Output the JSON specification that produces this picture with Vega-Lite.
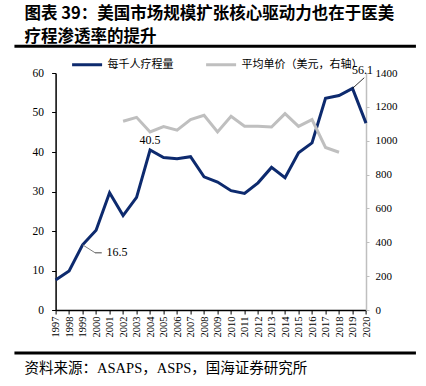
{
  "$schema": "https://vega.github.io/schema/vega-lite/v6.json",
  "width": 310.4,
  "height": 237,
  "autosize": {"type": "none"},
  "padding": {"left": 55.6, "top": 73, "right": 60, "bottom": 76},
  "background": "white",
  "config": {"view": {"stroke": null}, "font": "Liberation Serif"},
  "title": {
    "text": ["图表 39：美国市场规模扩张核心驱动力也在于医美", "疗程渗透率的提升"],
    "anchor": "start",
    "frame": "group",
    "font": "Noto Sans CJK SC",
    "fontSize": 16.5,
    "fontWeight": "bold",
    "lineHeight": 23,
    "color": "#000000",
    "dx": -31,
    "offset": -1
  },
  "data": {
    "values": [
      {"year": 1997, "series": "每千人疗程量", "value": 7.6},
      {"year": 1998, "series": "每千人疗程量", "value": 9.9},
      {"year": 1999, "series": "每千人疗程量", "value": 16.5},
      {"year": 2000, "series": "每千人疗程量", "value": 20.2},
      {"year": 2001, "series": "每千人疗程量", "value": 29.7},
      {"year": 2002, "series": "每千人疗程量", "value": 23.9},
      {"year": 2003, "series": "每千人疗程量", "value": 28.5},
      {"year": 2004, "series": "每千人疗程量", "value": 40.5},
      {"year": 2005, "series": "每千人疗程量", "value": 38.6},
      {"year": 2006, "series": "每千人疗程量", "value": 38.3},
      {"year": 2007, "series": "每千人疗程量", "value": 38.8},
      {"year": 2008, "series": "每千人疗程量", "value": 33.7},
      {"year": 2009, "series": "每千人疗程量", "value": 32.4},
      {"year": 2010, "series": "每千人疗程量", "value": 30.2},
      {"year": 2011, "series": "每千人疗程量", "value": 29.5},
      {"year": 2012, "series": "每千人疗程量", "value": 32.2},
      {"year": 2013, "series": "每千人疗程量", "value": 36.1},
      {"year": 2014, "series": "每千人疗程量", "value": 33.5},
      {"year": 2015, "series": "每千人疗程量", "value": 39.8},
      {"year": 2016, "series": "每千人疗程量", "value": 42.3},
      {"year": 2017, "series": "每千人疗程量", "value": 53.6},
      {"year": 2018, "series": "每千人疗程量", "value": 54.3},
      {"year": 2019, "series": "每千人疗程量", "value": 56.1},
      {"year": 2020, "series": "每千人疗程量", "value": 47.3},
      {"year": 2002, "series": "平均单价（美元，右轴）", "value": 1115},
      {"year": 2003, "series": "平均单价（美元，右轴）", "value": 1138},
      {"year": 2004, "series": "平均单价（美元，右轴）", "value": 1052},
      {"year": 2005, "series": "平均单价（美元，右轴）", "value": 1083},
      {"year": 2006, "series": "平均单价（美元，右轴）", "value": 1062},
      {"year": 2007, "series": "平均单价（美元，右轴）", "value": 1125},
      {"year": 2008, "series": "平均单价（美元，右轴）", "value": 1150},
      {"year": 2009, "series": "平均单价（美元，右轴）", "value": 1052},
      {"year": 2010, "series": "平均单价（美元，右轴）", "value": 1144},
      {"year": 2011, "series": "平均单价（美元，右轴）", "value": 1085},
      {"year": 2012, "series": "平均单价（美元，右轴）", "value": 1085},
      {"year": 2013, "series": "平均单价（美元，右轴）", "value": 1081},
      {"year": 2014, "series": "平均单价（美元，右轴）", "value": 1160},
      {"year": 2015, "series": "平均单价（美元，右轴）", "value": 1085},
      {"year": 2016, "series": "平均单价（美元，右轴）", "value": 1125},
      {"year": 2017, "series": "平均单价（美元，右轴）", "value": 960},
      {"year": 2018, "series": "平均单价（美元，右轴）", "value": 932}
    ]
  },
  "encoding": {
    "x": {
      "field": "year",
      "type": "quantitative",
      "scale": {"domain": [1997, 2020], "nice": false, "zero": false},
      "axis": {
        "values": [1997,1998,1999,2000,2001,2002,2003,2004,2005,2006,2007,2008,2009,2010,2011,2012,2013,2014,2015,2016,2017,2018,2019,2020],
        "format": "d",
        "labelAngle": -90,
        "labelFont": "Liberation Serif",
        "labelFontSize": 10.5,
        "labelColor": "#000000",
        "labelPadding": 2,
        "tickColor": "#000000",
        "tickSize": 4,
        "domainColor": "#000000",
        "domainWidth": 1.5,
        "grid": false,
        "title": null,
        "labelOverlap": false,
        "labelFlush": false
      }
    }
  },
  "layer": [
    {
      "encoding": {
        "y": {
          "field": "value",
          "type": "quantitative",
          "scale": {"domain": [0, 60], "nice": false},
          "axis": {
            "orient": "left",
            "values": [0,10,20,30,40,50,60],
            "labelOverlap": false,
            "labelFont": "Liberation Serif",
            "labelFontSize": 11.5,
            "labelColor": "#000000",
            "labelPadding": 8,
            "tickSize": 4,
            "tickColor": "#000000",
            "domainColor": "#000000",
            "domainWidth": 1.5,
            "grid": false,
            "title": null
          }
        }
      },
      "layer": [
        {
          "transform": [{"filter": "datum.series === '每千人疗程量'"}],
          "mark": {"type": "line", "strokeWidth": 3},
          "encoding": {
            "color": {
              "field": "series",
              "type": "nominal",
              "scale": {"domain": ["每千人疗程量", "平均单价（美元，右轴）"], "range": ["#0d2a6e", "#bfbfbf"]},
              "legend": {
                "orient": "none",
                "legendX": 15,
                "legendY": -25,
                "direction": "horizontal",
                "title": null,
                "symbolType": "stroke",
                "symbolSize": 900,
                "symbolStrokeWidth": 3,
                "labelFont": "Noto Sans CJK SC",
                "labelFontSize": 11,
                "labelColor": "#000000",
                "labelOffset": 4,
                "columnPadding": 26
              }
            }
          }
        },
        {
          "transform": [{"filter": "datum.year === 2004 && datum.series === '每千人疗程量'"}],
          "mark": {"type": "text", "dy": -10, "align": "center", "font": "Liberation Serif", "fontSize": 12, "color": "#000000"},
          "encoding": {"text": {"field": "value", "type": "quantitative", "format": ".1f"}}
        },
        {
          "transform": [{"filter": "datum.year === 1999 && datum.series === '每千人疗程量'"}],
          "mark": {"type": "rule", "color": "#808080", "strokeWidth": 1},
          "encoding": {"x2": {"datum": 1999.92}, "y2": {"datum": 14.5}}
        },
        {
          "transform": [{"filter": "datum.year === 1999 && datum.series === '每千人疗程量'"}],
          "mark": {"type": "rule", "color": "#808080", "strokeWidth": 1.5},
          "encoding": {"x": {"datum": 1999.92}, "x2": {"datum": 2000.42}, "y": {"datum": 14.5}}
        },
        {
          "transform": [{"filter": "datum.year === 1999 && datum.series === '每千人疗程量'"}],
          "mark": {"type": "text", "dx": 24, "dy": 7, "align": "left", "baseline": "middle", "font": "Liberation Serif", "fontSize": 12, "color": "#000000"},
          "encoding": {"text": {"field": "value", "type": "quantitative", "format": ".1f"}}
        },
        {
          "transform": [{"filter": "datum.year === 2019 && datum.series === '每千人疗程量'"}],
          "mark": {"type": "rule", "color": "#000000", "strokeWidth": 0.8},
          "encoding": {"x2": {"datum": 2019.87}, "y2": {"datum": 58.8}}
        },
        {
          "transform": [{"filter": "datum.year === 2019 && datum.series === '每千人疗程量'"}],
          "mark": {"type": "text", "dx": 10, "dy": -18, "align": "center", "baseline": "middle", "font": "Liberation Serif", "fontSize": 12, "color": "#000000"},
          "encoding": {"text": {"field": "value", "type": "quantitative", "format": ".1f"}}
        },
        {
          "transform": [{"filter": "datum.year === 1997"}],
          "mark": {"type": "rule", "color": "#000000", "strokeWidth": 3},
          "encoding": {"x": {"datum": 1993.95}, "x2": {"datum": 2023.7}, "y": {"datum": 66.8}}
        },
        {
          "transform": [{"filter": "datum.year === 1997"}],
          "mark": {"type": "rule", "color": "#000000", "strokeWidth": 3},
          "encoding": {"x": {"datum": 1993.95}, "x2": {"datum": 2023.7}, "y": {"datum": -10.9}}
        },
        {
          "transform": [{"filter": "datum.year === 1997"}],
          "mark": {"type": "text", "align": "left", "baseline": "middle", "font": "Liberation Serif, Noto Sans CJK SC", "fontSize": 14.5, "color": "#000000"},
          "encoding": {"x": {"datum": 1994.7}, "y": {"datum": -15}, "text": {"value": "资料来源：ASAPS，ASPS，国海证券研究所"}}
        }
      ]
    },
    {
      "transform": [{"filter": "datum.series === '平均单价（美元，右轴）'"}],
      "mark": {"type": "line", "strokeWidth": 3},
      "encoding": {
        "y": {
          "field": "value",
          "type": "quantitative",
          "scale": {"domain": [0, 1400], "nice": false},
          "axis": {
            "orient": "right",
            "values": [0,200,400,600,800,1000,1200,1400],
            "format": "d",
            "labelOverlap": false,
            "labelFont": "Liberation Serif",
            "labelFontSize": 11,
            "labelColor": "#000000",
            "labelPadding": 6,
            "tickSize": 3,
            "tickColor": "#bfbfbf",
            "domainColor": "#bfbfbf",
            "domainWidth": 1.5,
            "grid": false,
            "title": null
          }
        },
        "color": {"field": "series", "type": "nominal"}
      }
    }
  ],
  "resolve": {"scale": {"y": "independent"}}
}
